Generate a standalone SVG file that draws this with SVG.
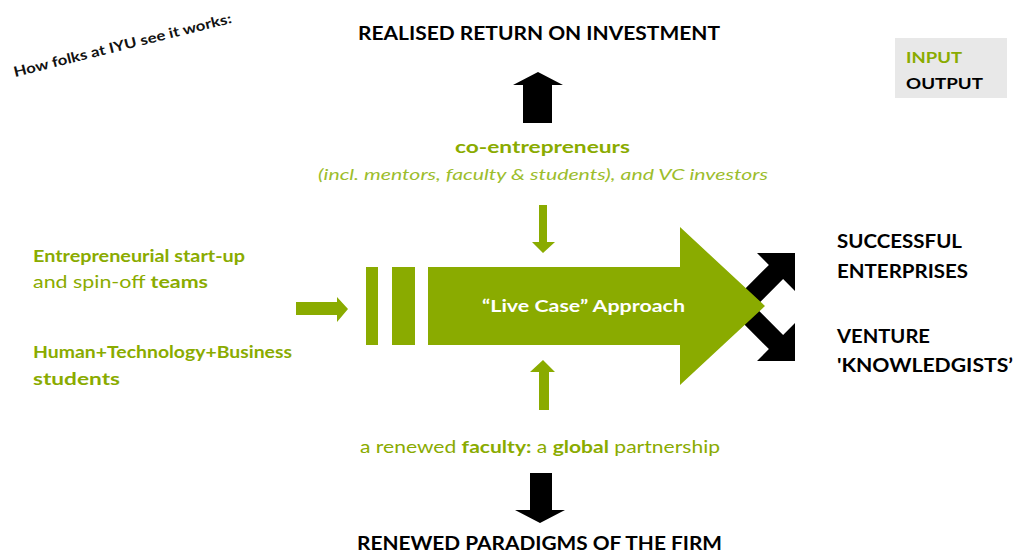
<svg xmlns="http://www.w3.org/2000/svg" width="1016" height="553" viewBox="0 0 1016 553">
<style>
.h{font-family:Lato,"Open Sans","Liberation Sans",sans-serif;font-weight:bold;fill:#000;font-size:18px}
.g{font-family:Lato,"Open Sans","Liberation Sans",sans-serif;fill:#8aab00;font-size:17px}
.b{font-weight:bold}
.n{font-weight:normal}
.green{fill:#8aab00}
.blk{fill:#000}
</style>
<rect width="1016" height="553" fill="#fff"/>
<g id="connectors">
  <polygon class="blk" points="523,123 523,85 513,85 538,72 563,85 552,85 552,123"/>
  <polygon class="blk" points="530,473 552,473 552,510 565,510 540,523 515,510 530,510"/>
  <polygon class="blk" points="795,253 795,291 783.1,279.1 753.1,309.1 738.9,294.9 768.9,264.9 757,253"/>
  <polygon class="blk" points="795,361 795,323 783.1,334.9 753.1,304.9 738.9,319.1 768.9,349.1 757,361"/>
  <polygon class="green" points="539,205 547,205 547,242 555,242 543,253 532,242 539,242"/>
  <polygon class="green" points="539,410 549,410 549,372 555,372 543,360 530,372 539,372"/>
  <polygon class="green" points="296,302 337,302 337,297 348,309 337,322 337,315 296,315"/>
</g>
<g id="node-approach">
  <rect class="green" x="366" y="267" width="12" height="78"/>
  <rect class="green" x="392" y="267" width="23" height="78"/>
  <polygon class="green" points="428,267 680,267 680,227 765,306 680,385 680,345 428,345"/>
  <text class="h" x="482" y="312" fill="#fff" style="fill:#fff;font-size:17px" textLength="203" lengthAdjust="spacingAndGlyphs">“Live Case” Approach</text>
</g>
<g id="node-caption">
  <text x="15" y="77" transform="rotate(-14 15 77)" font-family="Lato,'Open Sans','Liberation Sans',sans-serif" font-size="14" font-weight="bold" fill="#111" textLength="224" lengthAdjust="spacingAndGlyphs">How folks at IYU see it works:</text>
</g>
<g id="node-roi">
  <text class="h" x="358" y="40" textLength="362" lengthAdjust="spacingAndGlyphs">REALISED RETURN ON INVESTMENT</text>
</g>
<g id="node-legend">
  <rect x="895" y="38" width="112" height="60" fill="#e8e8e8"/>
  <text class="h" x="906" y="63" style="fill:#8aab00;font-size:16px" textLength="56" lengthAdjust="spacingAndGlyphs">INPUT</text>
  <text class="h" x="906" y="89" style="font-size:16px" textLength="77" lengthAdjust="spacingAndGlyphs">OUTPUT</text>
</g>
<g id="node-coentrepreneurs">
  <text class="g b" x="455" y="153" textLength="175" lengthAdjust="spacingAndGlyphs">co-entrepreneurs</text>
  <text class="g" x="318" y="180" style="font-style:italic;fill:#9cbd2c;font-size:16px" textLength="450" lengthAdjust="spacingAndGlyphs">(incl. mentors, faculty &amp; students), and VC investors</text>
</g>
<g id="node-teams">
  <text class="g b" x="33" y="262" textLength="212" lengthAdjust="spacingAndGlyphs">Entrepreneurial start-up</text>
  <text class="g" x="33" y="288" textLength="175" lengthAdjust="spacingAndGlyphs">and  spin-off <tspan class="b">teams</tspan></text>
</g>
<g id="node-students">
  <text class="g b" x="33" y="358" textLength="259" lengthAdjust="spacingAndGlyphs">Human+Technology+Business</text>
  <text class="g b" x="33" y="385" textLength="87" lengthAdjust="spacingAndGlyphs">students</text>
</g>
<g id="node-faculty">
  <text class="g" x="360" y="453" textLength="360" lengthAdjust="spacingAndGlyphs">a renewed <tspan class="b">faculty:</tspan> a <tspan class="b">global</tspan> partnership</text>
</g>
<g id="node-paradigms">
  <text class="h" x="357" y="550" textLength="365" lengthAdjust="spacingAndGlyphs">RENEWED PARADIGMS OF THE FIRM</text>
</g>
<g id="node-enterprises">
  <text class="h" x="837" y="248" textLength="125" lengthAdjust="spacingAndGlyphs">SUCCESSFUL</text>
  <text class="h" x="837" y="278" textLength="131" lengthAdjust="spacingAndGlyphs">ENTERPRISES</text>
</g>
<g id="node-knowledgists">
  <text class="h" x="837" y="343" textLength="93" lengthAdjust="spacingAndGlyphs">VENTURE</text>
  <text class="h" x="837" y="372" textLength="176" lengthAdjust="spacingAndGlyphs">'KNOWLEDGISTS’</text>
</g>
</svg>
